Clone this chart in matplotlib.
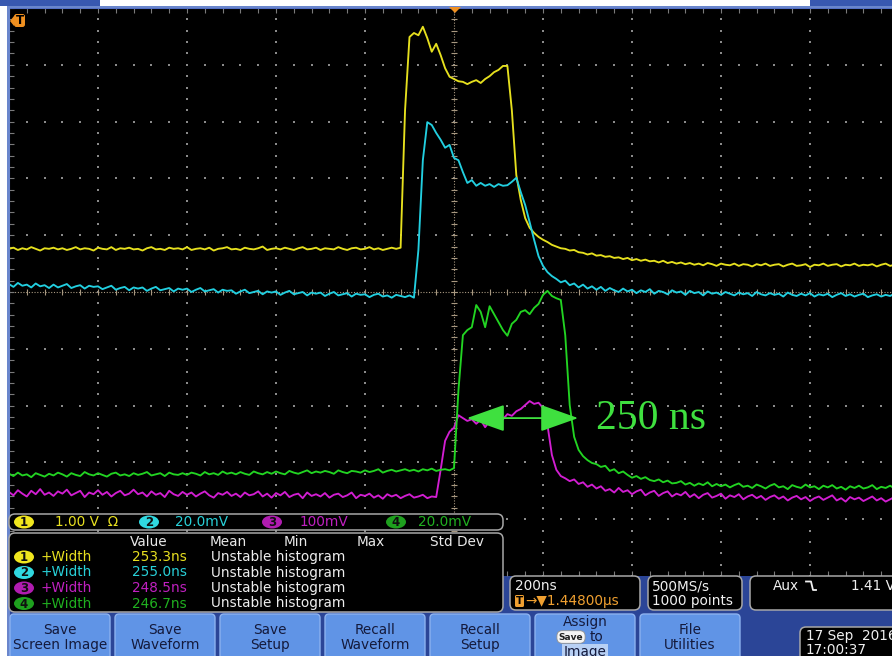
#Imports
import numpy as np
import matplotlib
matplotlib.use('Agg')
import matplotlib.pyplot as plt
from matplotlib.patches import FancyBboxPatch, Rectangle, Polygon, FancyArrowPatch, Ellipse

#Acquisition: 200 ns/div, 10 divisions, one sample every 10 ns (levels in divisions from centre)
sample_ns = 10
t_ns = np.arange(-1000, 1001, sample_ns)

ch1_div = [0.76,0.78,0.74,0.77,0.75,0.79,0.76,0.73,0.77,0.76,
           0.78,0.75,0.77,0.74,0.76,0.79,0.75,0.77,0.76,0.73,
           0.78,0.76,0.75,0.79,0.74,0.77,0.76,0.78,0.75,0.76,
           0.73,0.77,0.79,0.75,0.76,0.74,0.78,0.76,0.77,0.75,
           0.79,0.74,0.76,0.77,0.75,0.78,0.73,0.76,0.77,0.79,
           0.75,0.76,0.74,0.78,0.76,0.75,0.77,0.80,0.74,0.76,
           0.77,0.75,0.78,0.76,0.74,0.77,0.79,0.75,0.76,0.78,
           0.74,0.77,0.76,0.75,0.79,0.76,0.74,0.77,0.78,0.75,
           0.76,0.79,0.75,0.77,0.74,0.76,0.78,0.76,
           0.78,3.20,4.49,4.56,4.52,4.67,4.47,4.23,4.37,4.17,
           3.94,3.79,3.75,3.71,3.70,3.66,3.70,3.73,3.68,3.75,
           3.80,3.87,3.91,3.98,3.98,3.20,2.06,1.62,1.30,1.13,
           1.04,0.97,0.92,0.88,0.83,
           0.80,0.77,0.76,0.73,0.74,0.70,0.69,0.66,0.68,0.64,
           0.65,0.62,0.63,0.60,0.61,0.58,0.60,0.56,0.58,0.55,
           0.57,0.54,0.55,0.52,0.55,0.51,0.53,0.50,0.52,0.49,
           0.51,0.48,0.50,0.47,0.51,0.49,0.46,0.50,0.48,0.47,
           0.50,0.46,0.49,0.48,0.45,0.49,0.47,0.50,0.46,0.48,
           0.49,0.45,0.48,0.50,0.46,0.47,0.49,0.44,0.48,0.47,
           0.50,0.46,0.48,0.49,0.45,0.48,0.47,0.50,0.46,0.48,
           0.47,0.49,0.45,0.48,0.50,0.46,0.48,0.47]

ch2_div = [0.14,0.09,0.16,0.11,0.13,0.08,0.15,0.10,0.12,0.07,
           0.13,0.08,0.11,0.14,0.07,0.10,0.12,0.06,0.11,0.09,
           0.10,0.05,0.08,0.11,0.04,0.07,0.09,0.03,0.08,0.06,
           0.08,0.02,0.06,0.09,0.03,0.05,0.07,0.01,0.06,0.04,
           0.06,0.00,0.04,0.07,0.01,0.03,0.05,-0.01,0.04,0.02,
           0.03,-0.03,0.01,0.04,-0.02,0.00,0.02,-0.04,0.01,-0.01,
           0.01,-0.05,-0.01,0.02,-0.04,-0.02,0.00,-0.06,-0.01,-0.03,
           -0.01,-0.07,-0.03,0.00,-0.06,-0.04,-0.02,-0.08,-0.03,-0.05,
           -0.04,-0.09,-0.05,-0.03,-0.08,-0.06,-0.10,-0.05,-0.07,-0.09,
           -0.06,-0.10,
           0.74,2.32,2.99,2.94,2.80,2.68,2.54,2.59,2.36,2.32,
           2.11,1.92,1.97,1.87,1.92,1.87,1.90,1.85,1.90,1.87,
           1.88,1.94,2.01,1.76,1.53,1.23,0.92,0.63,0.46,0.35,
           0.28,
           0.23,0.17,0.20,0.12,0.15,0.08,0.13,0.06,0.10,0.04,
           0.09,0.02,0.07,0.03,0.00,0.06,0.01,0.04,-0.02,0.03,
           0.00,0.05,-0.03,0.02,0.00,-0.04,0.03,-0.01,0.01,-0.05,
           0.02,-0.02,0.00,-0.06,0.01,-0.03,-0.01,-0.05,0.00,-0.03,
           -0.06,-0.01,-0.04,-0.02,-0.07,0.00,-0.04,-0.06,-0.02,-0.05,
           -0.03,-0.08,-0.01,-0.05,-0.07,-0.03,-0.06,-0.02,-0.08,-0.04,
           -0.06,-0.03,-0.09,-0.05,-0.02,-0.07,-0.04,-0.08,-0.05,-0.03,
           -0.09,-0.06,-0.04,-0.08,-0.05,-0.07,-0.03,-0.08]

ch3_div = [-3.52,-3.58,-3.49,-3.55,-3.60,-3.50,-3.56,-3.47,-3.57,-3.53,
           -3.59,-3.51,-3.55,-3.48,-3.58,-3.54,-3.50,-3.61,-3.53,-3.56,
           -3.49,-3.57,-3.52,-3.60,-3.54,-3.50,-3.58,-3.55,-3.48,-3.56,
           -3.53,-3.60,-3.51,-3.57,-3.54,-3.61,-3.50,-3.56,-3.59,-3.52,
           -3.57,-3.53,-3.60,-3.55,-3.51,-3.58,-3.62,-3.54,-3.57,-3.52,
           -3.59,-3.55,-3.61,-3.53,-3.58,-3.56,-3.51,-3.60,-3.55,-3.62,
           -3.54,-3.58,-3.52,-3.61,-3.57,-3.55,-3.63,-3.53,-3.59,-3.56,
           -3.60,-3.54,-3.62,-3.57,-3.55,-3.61,-3.58,-3.53,-3.63,-3.57,
           -3.59,-3.55,-3.62,-3.58,-3.64,-3.56,-3.60,-3.57,-3.63,-3.59,
           -3.56,-3.62,-3.60,-3.57,-3.63,-3.60,
           -3.61,-3.13,-2.62,-2.46,-2.39,-2.17,-2.22,-2.27,-2.24,-2.32,
           -2.25,-2.38,-2.27,-2.22,-2.20,-2.24,-2.15,-2.18,-2.10,-2.06,
           -1.99,-1.92,-1.97,-1.95,-2.04,-2.34,-2.87,-3.13,-3.24,
           -3.28,-3.33,-3.30,-3.38,-3.35,-3.43,-3.39,-3.46,-3.42,-3.50,
           -3.47,-3.53,-3.45,-3.52,-3.49,-3.56,-3.51,-3.48,-3.58,-3.53,
           -3.50,-3.59,-3.54,-3.51,-3.60,-3.55,-3.58,-3.52,-3.61,-3.56,
           -3.63,-3.57,-3.54,-3.62,-3.59,-3.55,-3.64,-3.58,-3.61,-3.56,
           -3.65,-3.60,-3.57,-3.63,-3.59,-3.66,-3.61,-3.58,-3.64,-3.60,
           -3.67,-3.62,-3.59,-3.65,-3.61,-3.68,-3.63,-3.60,-3.66,-3.62,
           -3.58,-3.67,-3.63,-3.69,-3.61,-3.65,-3.62,-3.68,-3.64,-3.60,
           -3.67,-3.63,-3.69,-3.65,-3.61,-3.66]

ch4_div = [-3.20,-3.24,-3.18,-3.23,-3.21,-3.26,-3.19,-3.22,-3.25,-3.20,
           -3.23,-3.18,-3.21,-3.25,-3.19,-3.22,-3.24,-3.17,-3.21,-3.23,
           -3.19,-3.22,-3.25,-3.20,-3.18,-3.23,-3.21,-3.24,-3.19,-3.22,
           -3.20,-3.17,-3.23,-3.21,-3.19,-3.24,-3.18,-3.21,-3.22,-3.19,
           -3.22,-3.18,-3.20,-3.23,-3.17,-3.21,-3.19,-3.22,-3.16,-3.20,
           -3.18,-3.21,-3.17,-3.20,-3.22,-3.16,-3.19,-3.21,-3.17,-3.20,
           -3.16,-3.19,-3.21,-3.15,-3.18,-3.20,-3.17,-3.14,-3.19,-3.16,
           -3.18,-3.15,-3.17,-3.20,-3.14,-3.17,-3.19,-3.15,-3.16,-3.18,
           -3.14,-3.17,-3.15,-3.12,-3.18,-3.15,-3.13,-3.16,-3.14,-3.12,
           -3.15,-3.13,-3.16,-3.12,-3.14,-3.11,-3.15,-3.13,-3.12,-3.14,
           -3.10,-1.73,-0.76,-0.67,-0.62,-0.23,-0.35,-0.62,-0.25,-0.39,
           -0.53,-0.67,-0.77,-0.56,-0.49,-0.35,-0.32,-0.39,-0.28,-0.21,
           -0.05,0.02,-0.07,-0.11,-0.14,-0.76,-1.99,-2.55,-2.78,-2.89,
           -2.96,
           -3.01,-3.03,-3.08,-3.06,-3.15,-3.12,-3.19,-3.16,-3.22,-3.27,
           -3.24,-3.29,-3.26,-3.31,-3.33,-3.30,-3.35,-3.32,-3.37,-3.36,
           -3.33,-3.39,-3.36,-3.41,-3.37,-3.40,-3.35,-3.42,-3.38,-3.42,
           -3.39,-3.44,-3.40,-3.37,-3.43,-3.41,-3.45,-3.39,-3.42,-3.46,
           -3.41,-3.38,-3.44,-3.42,-3.47,-3.40,-3.43,-3.45,-3.39,-3.44,
           -3.42,-3.47,-3.41,-3.44,-3.40,-3.46,-3.43,-3.48,-3.42,-3.45,
           -3.41,-3.46,-3.44,-3.40,-3.47,-3.43,-3.45,-3.41,-3.46,-3.44]

#Channel readouts
ch_colors = ['#e6e01e', '#22cfe0', '#d21ed2', '#22d422']
ch_text_colors = ['#e8e020', '#28d0d8', '#c020c0', '#20b020']
ch_badge_colors = ['#f0e61e', '#30d8e0', '#b01cb0', '#1ea01e']
ch_scales = ['1.00 V  \u03a9', '20.0mV', '100mV', '20.0mV']
meas_names = ['+Width', '+Width', '+Width', '+Width']
meas_values = ['253.3ns', '255.0ns', '248.5ns', '246.7ns']
meas_status = 'Unstable histogram'
meas_headers = ['Value', 'Mean', 'Min', 'Max', 'Std Dev']

#Annotated pulse width
width_ns = 250
arrow_start_ns = 29
arrow_level_div = -2.22
arrow_color = '#3fe03f'

#Horizontal / acquisition / trigger readouts
timebase = '200ns'
trig_pos = '\u2192\u25bc1.44800\u00b5s'
acq_lines = ['500MS/s', '1000 points']
trig_source = 'Aux'
trig_level = '1.41 V'
date_lines = ['17 Sep  2016', '17:00:37']
buttons = [['Save', 'Screen Image'], ['Save', 'Waveform'], ['Save', 'Setup'],
           ['Recall', 'Waveform'], ['Recall', 'Setup'], ['Assign', 'to', 'Image'],
           ['File', 'Utilities']]

panel_blue = '#2b4597'
button_blue = '#6094e6'
button_text = '#141a3c'
font = 'DejaVu Sans'
fs = 9.8

fig = plt.figure(figsize=(8.92, 6.56), dpi=100, facecolor=panel_blue)

#Scope screen
ax = fig.add_axes([9/892, 1-576/656, 890/892, 568/656])
ax.set_facecolor('black')
ax.set_xlim(-1000, 1000)
ax.set_ylim(-5, 5)
ax.set_xticks(np.arange(-1000, 1001, 40))
ax.set_yticks(np.arange(-5, 5.01, 0.2))
ax.tick_params(direction='in', length=3.5, width=0.8, color='#7a7a7a',
               top=True, right=True, labelbottom=False, labelleft=False)
for s in ax.spines.values():
    s.set_color('#5470c4')
    s.set_linewidth(1.5)
ax.spines['bottom'].set_visible(False)

#Graticule dots
for gx in range(-800, 1000, 200):
    if gx != 0:
        ys = np.arange(-5, 5.01, 0.2)
        ax.scatter(np.full(len(ys), gx), ys, s=1.0, marker='s', color='#8a8a8a', lw=0, zorder=1)
for gy in range(-4, 5):
    if gy != 0:
        xs = np.arange(-1000, 1001, 40)
        ax.scatter(xs, np.full(len(xs), gy), s=1.0, marker='s', color='#8a8a8a', lw=0, zorder=1)

#Centre crosshair with minor ticks
ax.axvline(0, color='#a89880', lw=0.8, ls=(0, (1, 1.5)), zorder=1)
ax.axhline(0, color='#a89880', lw=0.8, ls=(0, (1, 1.5)), zorder=1)
cy = np.arange(-5, 5.01, 0.2)
ax.plot(np.zeros(len(cy)), cy, ls='none', marker='_', ms=5, mew=0.8, color='#a89880', zorder=1)
cx = np.arange(-1000, 1001, 40)
ax.plot(cx, np.zeros(len(cx)), ls='none', marker='|', ms=5, mew=0.8, color='#a89880', zorder=1)

#Waveforms
for vals, c in zip([ch1_div, ch2_div, ch3_div, ch4_div], ch_colors):
    ax.plot(t_ns, vals, color=c, lw=1.35, zorder=3)

#Width annotation
arr = FancyArrowPatch((arrow_start_ns, arrow_level_div), (arrow_start_ns + width_ns, arrow_level_div),
                      arrowstyle='<|-|>,head_length=2.4,head_width=0.85', mutation_scale=10,
                      color=arrow_color, lw=1.3, shrinkA=0, shrinkB=0, zorder=4)
ax.add_patch(arr)
ax.text(arrow_start_ns + width_ns + 40, arrow_level_div - 0.2, '%d ns' % width_ns,
        family='Liberation Serif', fontsize=30, color=arrow_color, va='baseline', ha='left', zorder=4)

#Instrument panel overlay, pixel coordinates
ui = fig.add_axes([0, 0, 1, 1])
ui.set_xlim(0, 892)
ui.set_ylim(656, 0)
ui.axis('off')

ui.add_patch(Rectangle((0, 0), 7, 656, fc='white', ec='none'))
ui.add_patch(Rectangle((0, 0), 892, 6, fc='white', ec='none'))
ui.add_patch(Rectangle((0, 0), 100, 6, fc='#3858b0', ec='none'))
ui.add_patch(Rectangle((810, 0), 82, 6, fc='#3858b0', ec='none'))
ui.add_patch(Rectangle((7, 6), 885, 2, fc='#6a86cc', ec='none'))
ui.add_patch(Rectangle((7, 6), 2.5, 650, fc='#6a86cc', ec='none'))

#Trigger position marker and trigger level flag
ui.add_patch(Polygon([(449, 7), (461, 7), (455, 13)], closed=True, fc='#f09020', ec='none'))
ui.add_patch(Polygon([(10, 21), (14, 16), (14, 26)], closed=True, fc='#f09020', ec='none'))
ui.add_patch(FancyBboxPatch((14, 14), 11, 13, boxstyle='round,pad=0,rounding_size=2.5',
                            fc='#f09020', ec='none'))
ui.text(19.5, 20.8, 'T', color='black', fontsize=8.5, weight='bold', ha='center', va='center', family=font)

def badge(x, y, n, fc):
    ui.add_patch(Ellipse((x, y), 20, 13, fc=fc, ec='none'))
    ui.text(x, y + 0.5, str(n), color='#101010', fontsize=8.5, weight='bold',
            ha='center', va='center', family=font)

def box(x0, y0, x1, y1):
    ui.add_patch(FancyBboxPatch((x0, y0), x1 - x0, y1 - y0, boxstyle='round,pad=0,rounding_size=6',
                                fc='black', ec='#a8a8a8', lw=1.1))

#Vertical scale bar
box(9, 514, 503, 530)
scale_x = [(24, 55), (149, 175), (272, 300), (396, 418)]
for i in range(4):
    bx, tx = scale_x[i]
    badge(bx, 522, i + 1, ch_badge_colors[i])
    ui.text(tx, 522.5, ch_scales[i], color=ch_text_colors[i], fontsize=fs, ha='left', va='center', family=font)

#Measurement table
box(9, 533, 503, 612)
for h, hx in zip(meas_headers, [130, 210, 284, 357, 430]):
    ui.text(hx, 541.5, h, color='#e8e8e8', fontsize=fs, ha='left', va='center', family=font)
row_y = [557, 572.5, 588, 603.5]
for i in range(4):
    badge(24, row_y[i], i + 1, ch_badge_colors[i])
    ui.text(40, row_y[i], meas_names[i], color=ch_text_colors[i], fontsize=fs, ha='left', va='center', family=font)
    ui.text(132, row_y[i], meas_values[i], color=ch_text_colors[i], fontsize=fs, ha='left', va='center', family=font)
    ui.text(211, row_y[i], meas_status, color='#eeeeee', fontsize=fs, ha='left', va='center', family=font)

#Horizontal and acquisition readouts
box(510, 576, 640, 610)
ui.text(515, 586, timebase, color='#f0f0f0', fontsize=fs, ha='left', va='center', family=font)
ui.add_patch(FancyBboxPatch((515, 595), 9, 12, boxstyle='round,pad=0,rounding_size=1.5', fc='#f0a030', ec='none'))
ui.text(519.5, 601.5, 'T', color='black', fontsize=7.5, weight='bold', ha='center', va='center', family=font)
ui.text(525, 601, trig_pos, color='#f0a030', fontsize=fs, ha='left', va='center', family=font)

box(648, 576, 742, 610)
ui.text(652, 586, acq_lines[0], color='#f0f0f0', fontsize=fs, ha='left', va='center', family=font)
ui.text(652, 601, acq_lines[1], color='#f0f0f0', fontsize=fs, ha='left', va='center', family=font)

box(750, 576, 910, 610)
ui.text(773, 586, trig_source, color='#f0f0f0', fontsize=fs, ha='left', va='center', family=font)
ui.plot([806, 811, 813, 816], [581.5, 581.5, 590, 590], color='#f0f0f0', lw=1.3)
ui.text(851, 586, trig_level, color='#f0f0f0', fontsize=fs, ha='left', va='center', family=font)

box(800, 627, 910, 666)
ui.text(806, 636, date_lines[0], color='#f0f0f0', fontsize=fs, ha='left', va='center', family=font)
ui.text(806, 650, date_lines[1], color='#f0f0f0', fontsize=fs, ha='left', va='center', family=font)

#Soft-key buttons
for k, lab in enumerate(buttons):
    x0 = 10 + 105 * k
    ui.add_patch(FancyBboxPatch((x0, 614), 100, 50, boxstyle='round,pad=0,rounding_size=4',
                                fc=button_blue, ec='#8cb2f0', lw=1.0))
    xc = x0 + 50
    if len(lab) == 2:
        ui.text(xc, 630, lab[0], color=button_text, fontsize=fs, ha='center', va='center', family=font)
        ui.text(xc, 645, lab[1], color=button_text, fontsize=fs, ha='center', va='center', family=font)
    else:
        ui.text(xc, 622, lab[0], color=button_text, fontsize=fs, ha='center', va='center', family=font)
        ui.text(xc - 14, 637, 'Save', color='#202020', fontsize=6.5, weight='bold', ha='center', va='center',
                family=font, bbox=dict(boxstyle='round,pad=0.2,rounding_size=0.6', fc='#f4f4f4', ec='#909090', lw=0.6))
        ui.text(xc + 12, 637, lab[1], color=button_text, fontsize=fs, ha='center', va='center', family=font)
        ui.text(xc, 652, lab[2], color=button_text, fontsize=fs, ha='center', va='center', family=font,
                bbox=dict(boxstyle='square,pad=0.1', fc='#b8d0f4', ec='none'))

fig.savefig('out.png', dpi=100, facecolor=panel_blue)
